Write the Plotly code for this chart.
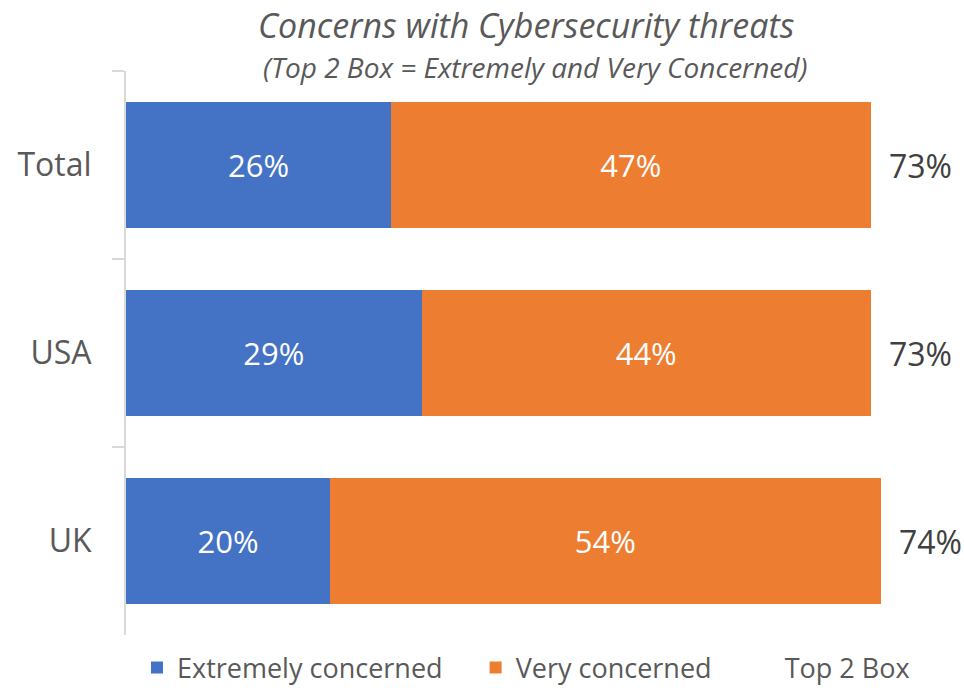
import plotly.graph_objects as go

categories = ["Total", "USA", "UK"]
extremely = [26, 29, 20]
very = [47, 44, 54]
top2 = [73, 73, 74]

series_names = ["Extremely concerned", "Very concerned", "Top 2 Box"]
title_text = "Concerns with Cybersecurity threats"
subtitle_text = "(Top 2 Box = Extremely and Very Concerned)"

BLUE = "#4472C4"
ORANGE = "#ED7D31"
GREY_TXT = "#595959"
DARK_TXT = "#404040"
AXIS = "#D9D9D9"
FONT = "Open Sans"
PAD = "\u00a0" * 4

fig = go.Figure()
fig.add_trace(go.Bar(
    name=series_names[0] + PAD, x=extremely, y=categories, orientation="h",
    marker=dict(color=BLUE, line=dict(width=0)),
    text=[f"{v}%" for v in extremely], textposition="inside",
    insidetextanchor="middle",
    textfont=dict(color="white", size=31, family=FONT),
    hoverinfo="skip",
))
fig.add_trace(go.Bar(
    name=series_names[1] + PAD, x=very, y=categories, orientation="h",
    marker=dict(color=ORANGE, line=dict(width=0)),
    text=[f"{v}%" for v in very], textposition="inside",
    insidetextanchor="middle",
    textfont=dict(color="white", size=31, family=FONT),
    hoverinfo="skip",
))
fig.add_trace(go.Bar(
    name=series_names[2], x=[0 for _ in top2], y=categories, orientation="h",
    marker=dict(color="rgba(0,0,0,0)", line=dict(width=0)),
    hoverinfo="skip",
))

annots = []
for c, v in zip(categories, top2):
    annots.append(dict(
        x=v, y=c, xref="x", yref="y", text=f"{v}%", showarrow=False,
        xanchor="left", yanchor="middle", xshift=16,
        font=dict(size=32, color=DARK_TXT, family=FONT),
    ))
annots.append(dict(
    x=(526 - 126) / 816, y=1 + (71 - 25) / 564, xref="paper", yref="paper",
    text=f"<i>{title_text}</i>", showarrow=False, xanchor="center", yanchor="middle",
    font=dict(size=34, color=GREY_TXT, family=FONT)))
annots.append(dict(
    x=(535 - 126) / 816, y=1 + (71 - 67) / 564, xref="paper", yref="paper",
    text=f"<i>{subtitle_text}</i>", showarrow=False, xanchor="center", yanchor="middle",
    font=dict(size=28, color=GREY_TXT, family=FONT)))

fig.update_layout(
    width=964, height=688,
    margin=dict(l=126, r=22, t=71, b=53, autoexpand=False),
    barmode="stack", bargap=1 / 3,
    plot_bgcolor="white", paper_bgcolor="white",
    showlegend=True,
    legend=dict(
        orientation="h", x=526 / 964, xanchor="center", xref="container",
        y=1 - 668 / 688, yanchor="middle", yref="container",
        font=dict(size=27, color=GREY_TXT, family=FONT),
        traceorder="normal",
    ),
    xaxis=dict(range=[0, 80], visible=False, showgrid=False, zeroline=False),
    yaxis=dict(
        categoryorder="array", categoryarray=categories, autorange="reversed",
        showline=True, linecolor=AXIS, linewidth=2,
        ticks="outside", tickson="boundaries", ticklen=12, tickcolor=AXIS, tickwidth=2,
        ticklabelstandoff=26, automargin=False,
        tickfont=dict(size=32, color=GREY_TXT, family=FONT),
        showgrid=False, zeroline=False,
    ),
    annotations=annots,
)

fig.write_html("out.html", config={"displayModeBar": False},
               post_script="document.body.style.margin='0';")
